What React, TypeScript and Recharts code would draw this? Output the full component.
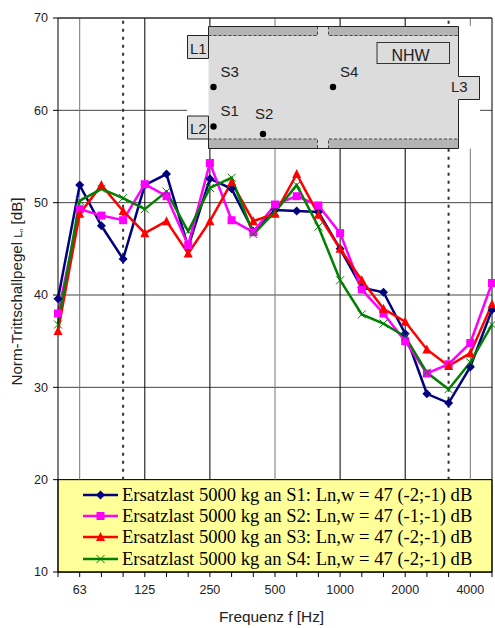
import { LineChart, Line, XAxis, YAxis, CartesianGrid, ReferenceLine, ReferenceArea, Legend } from "recharts"

const frequencies = ["50", "63", "80", "100", "125", "160", "200", "250", "315", "400", "500", "630", "800", "1000", "1250", "1600", "2000", "2500", "3150", "4000", "5000"]
const labelledFrequencies = ["63", "125", "250", "500", "1000", "2000", "4000"]
const levelTicks = [10, 20, 30, 40, 50, 60, 70]

const s1 = [39.6, 51.9, 47.5, 43.9, 51.9, 53.1, 45.2, 52.6, 51.5, 46.9, 49.2, 49.1, 49.0, 45.0, 40.8, 40.3, 35.8, 29.3, 28.3, 32.2, 38.4]
const s2 = [38.0, 49.3, 48.6, 48.1, 52.0, 50.7, 45.4, 54.3, 48.1, 46.8, 49.8, 50.7, 49.7, 46.7, 40.6, 38.0, 35.0, 31.5, 32.5, 34.8, 41.3]
const s3 = [36.1, 48.8, 51.9, 49.1, 46.7, 48.0, 44.5, 48.0, 52.2, 48.0, 48.8, 53.1, 48.7, 45.0, 41.6, 38.5, 37.1, 34.1, 32.3, 33.7, 39.0]
const s4 = [36.8, 50.2, 51.5, 50.5, 49.3, 51.2, 46.9, 51.6, 52.7, 46.6, 49.0, 51.9, 47.4, 41.6, 37.9, 36.9, 35.5, 31.6, 29.8, 32.7, 36.8]

const seriesNames = [
    "Ersatzlast 5000 kg an S1: Ln,w = 47 (-2;-1) dB",
    "Ersatzlast 5000 kg an S2: Ln,w = 47 (-1;-1) dB",
    "Ersatzlast 5000 kg an S3: Ln,w = 47 (-2;-1) dB",
    "Ersatzlast 5000 kg an S4: Ln,w = 47 (-2;-1) dB",
]
const seriesColors = ["#000080", "#ff00ff", "#ff0000", "#008000"]
const seriesKeys = ["s1", "s2", "s3", "s4"]

const solidLines = ["125", "250", "1000", "2000"]
const greyLines = ["63", "500", "4000"]
const dottedLines = ["100", "3150"]

const data = frequencies.map((f, i) => ({
    f,
    s1: s1[i],
    s2: s2[i],
    s3: s3[i],
    s4: s4[i],
}))

const sans = "'Liberation Sans', Arial, sans-serif"

function Marker({ kind, cx, cy, color }: { kind: number; cx: number; cy: number; color: string }) {
    if (kind === 0) {
        return <polygon points={`${cx},${cy - 4.5} ${cx + 4.5},${cy} ${cx},${cy + 4.5} ${cx - 4.5},${cy}`} fill={color} />
    }
    if (kind === 1) {
        return <rect x={cx - 4} y={cy - 4} width={8} height={8} fill={color} />
    }
    if (kind === 2) {
        return <polygon points={`${cx},${cy - 5} ${cx + 4.5},${cy + 4} ${cx - 4.5},${cy + 4}`} fill={color} />
    }
    return (
        <path d={`M${cx - 4},${cy - 4}L${cx + 4},${cy + 4}M${cx - 4},${cy + 4}L${cx + 4},${cy - 4}`} stroke={color} strokeWidth={1} fill="none" />
    )
}

function LegendRows() {
    return (
        <div style={{ width: 433, height: 88 }}>
            {seriesNames.map((name, i) => (
                <div key={name} style={{ height: 21.3, display: "flex", alignItems: "center", whiteSpace: "nowrap" }}>
                    <svg width={35} height={14} style={{ marginLeft: 25, marginRight: 4, flex: "none" }}>
                        <line x1={0} x2={35} y1={7} y2={7} stroke={seriesColors[i]} strokeWidth={2.5} />
                        <Marker kind={i} cx={17.5} cy={7} color={seriesColors[i]} />
                    </svg>
                    <span style={{ fontFamily: "'Liberation Serif', serif", fontSize: 18.6, color: "#000" }}>{name}</span>
                </div>
            ))}
        </div>
    )
}

function YLabel() {
    return (
        <text x={0} y={0} transform="translate(22,291.5) rotate(-90)" textAnchor="middle" fontFamily={sans} fontSize={15.2} fill="#222">
            Norm-Trittschallpegel <tspan fontSize={10}>L</tspan><tspan fontSize={6} dy={1}>n</tspan><tspan dy={-1}> [dB]</tspan>
        </text>
    )
}

function FloorPlan() {
    const text = { fontFamily: sans, fontSize: 15, fill: "#222" }
    return (
        <svg width={495} height={628} style={{ position: "absolute", left: 0, top: 0, pointerEvents: "none" }}>
            <rect x={187} y={26} width={293} height={122.5} fill="#fff" />
            <path
                d="M208.5,26.5H458.5V76.5H479.5V99.5H458.5V148.5H208.5V139H187.5V116H208.5V58.5H187.5V35.5H208.5Z"
                fill="#dcdcdc"
                stroke="none"
            />
            <rect x={208.5} y={27} width={109} height={9} fill="#b4b4b4" />
            <rect x={328.5} y={27} width={130} height={9} fill="#b4b4b4" />
            <rect x={208.5} y={139} width={109} height={9} fill="#b4b4b4" />
            <rect x={328.5} y={139} width={130} height={9} fill="#b4b4b4" />
            <path d="M208.5,26.5H458.5V76.5H479.5V99.5H458.5V148.5H208.5V139H187.5V116H208.5M208.5,58.5H187.5V35.5H208.5" fill="none" stroke="#222" strokeWidth={1} />
            <path d="M208.5,26.5V58.5M208.5,116V148.5" fill="none" stroke="#222" strokeWidth={1} />
            <path d="M208.5,35.5H317.5V26.5M328.5,26.5V35.5H458.5M208.5,139H317.5V148.5M328.5,148.5V139H458.5" fill="none" stroke="#444" strokeWidth={1} strokeDasharray="3 2" />
            <rect x={377} y={42.5} width={72.5} height={21} fill="none" stroke="#333" strokeWidth={1} />
            <text x={410.5} y={61} textAnchor="middle" {...text} fontSize={16}>NHW</text>
            <text x={190} y={54} {...text}>L1</text>
            <text x={190} y={134} {...text}>L2</text>
            <text x={451} y={92} {...text}>L3</text>
            <text x={220.5} y={76.5} {...text}>S3</text>
            <text x={340} y={76.5} {...text}>S4</text>
            <text x={220.5} y={115.5} {...text}>S1</text>
            <text x={255} y={119} {...text}>S2</text>
            <circle cx={213.5} cy={87} r={3.2} fill="#000" />
            <circle cx={333} cy={87} r={3.2} fill="#000" />
            <circle cx={213.5} cy={126.5} r={3.2} fill="#000" />
            <circle cx={263} cy={134} r={3.2} fill="#000" />
        </svg>
    )
}

export default function App() {
    return (
        <div style={{ position: "absolute", left: 0, top: 0, width: 495, height: 628, background: "#fff" }}>
            <LineChart width={495} height={628} data={data} margin={{ top: 18, right: 3, left: 0, bottom: 0 }}>
                <CartesianGrid vertical={false} stroke="#444" strokeWidth={1} syncWithTicks />
                <ReferenceArea y1={10} y2={20} fill="#ffff99" fillOpacity={1} stroke="#000" strokeWidth={1} />
                {greyLines.map(f => (
                    <ReferenceLine key={f} stroke="#777" strokeWidth={1} segment={[{ x: f, y: 20 }, { x: f, y: 70 }]} />
                ))}
                {solidLines.map(f => (
                    <ReferenceLine key={f} stroke="#000" strokeWidth={1} segment={[{ x: f, y: 20 }, { x: f, y: 70 }]} />
                ))}
                {dottedLines.map(f => (
                    <ReferenceLine key={f} stroke="#333" strokeWidth={2} strokeDasharray="3 5" segment={[{ x: f, y: 20 }, { x: f, y: 70 }]} />
                ))}
                <ReferenceLine x="5000" stroke="#000" strokeWidth={1} />
                <ReferenceLine y={70} stroke="#222" strokeWidth={1} />
                <XAxis
                    dataKey="f"
                    scale="point"
                    padding={{ left: 0, right: 0 }}
                    height={56}
                    interval={0}
                    tickSize={5}
                    tickMargin={8}
                    stroke="#000"
                    tick={{ fontSize: 12.5, fontFamily: sans, fill: "#222" }}
                    tickFormatter={(f: string) => (labelledFrequencies.includes(f) ? f : "")}
                    label={{ value: "Frequenz f [Hz]", position: "insideBottom", offset: 6, dx: -3.5, fontSize: 15.4, fontFamily: sans, fill: "#222" }}
                />
                <YAxis
                    type="number"
                    domain={[10, 70]}
                    ticks={levelTicks}
                    width={58}
                    tickSize={5}
                    tickMargin={5}
                    stroke="#000"
                    tick={{ fontSize: 12.5, fontFamily: sans, fill: "#222" }}
                    label={<YLabel />}
                />
                {seriesKeys.map((key, i) => (
                    <Line
                        key={key}
                        dataKey={key}
                        name={seriesNames[i]}
                        type="linear"
                        stroke={seriesColors[i]}
                        strokeWidth={2.5}
                        isAnimationActive={false}
                        dot={(p: { cx: number; cy: number }) => (
                            <Marker key={`${key}-${p.cx}`} kind={i} cx={p.cx} cy={p.cy} color={seriesColors[i]} />
                        )}
                    />
                ))}
                <Legend
                    layout="horizontal"
                    align="center"
                    verticalAlign="middle"
                    wrapperStyle={{ left: 58, top: 484, width: 433, height: 88 }}
                    content={() => <LegendRows />}
                />
            </LineChart>
            <FloorPlan />
        </div>
    )
}
